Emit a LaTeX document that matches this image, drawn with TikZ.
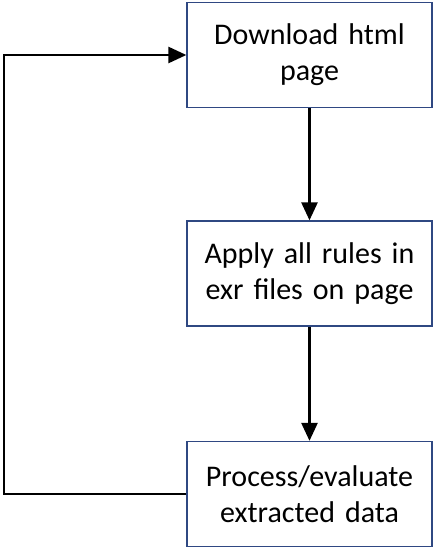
\documentclass[tikz,border=0pt]{standalone}
\usepackage{fontspec}
\setmainfont{Carlito}
\usetikzlibrary{arrows.meta}
\definecolor{boxblue}{RGB}{47,72,130}
\begin{document}
\begin{tikzpicture}[x=1pt,y=-1pt,
  stepbox/.style={draw=boxblue, line width=1.3pt, fill=white, minimum width=245pt, minimum height=105pt,
    inner sep=0pt, text width=235pt, align=center, font=\fontsize{30}{36}\selectfont},
  conn/.style={line width=2.6pt, -{Triangle[length=18pt,width=16pt]}}]
\useasboundingbox (0,0) rectangle (446,552);
\node[stepbox] (a) at (309.5,55) {Download html\\page};
\node[stepbox] (b) at (309.5,273.5) {Apply all rules in\\exr files on page};
\node[stepbox] (c) at (309.5,494) {Process/evaluate\\extracted data};
\coordinate (lb) at (4,494);
\coordinate (lt) at (4,55);
\draw[conn] (a.south) -- (b.north);
\draw[conn] (b.south) -- (c.north);
\draw[conn, line join=miter] (c.west) -- (lb) -- (lt) -- (a.west);
\end{tikzpicture}
\end{document}
